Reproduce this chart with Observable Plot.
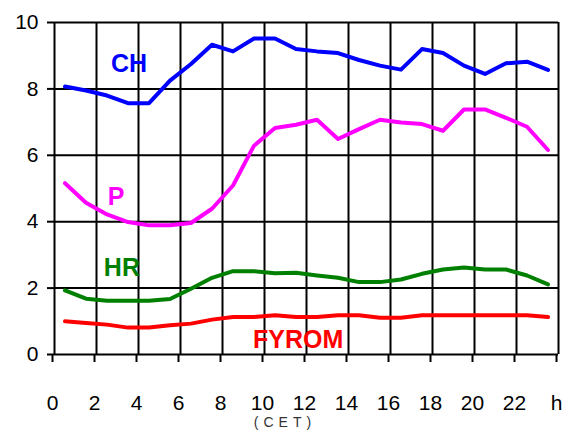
<!DOCTYPE html>
<html>
<head>
<meta charset="utf-8">
<script src="https://cdn.jsdelivr.net/npm/d3@7"></script>
<script src="https://cdn.jsdelivr.net/npm/@observablehq/plot@0.6"></script>
<style>
  html, body { margin: 0; padding: 0; background: #fff; }
</style>
</head>
<body>
<div id="chart"></div>
<script>
// Hours (CET) at which values are plotted (centre of each hourly interval)
const hours = [0.5, 1.5, 2.5, 3.5, 4.5, 5.5, 6.5, 7.5, 8.5, 9.5, 10.5, 11.5,
               12.5, 13.5, 14.5, 15.5, 16.5, 17.5, 18.5, 19.5, 20.5, 21.5, 22.5, 23.5];

const CH    = [8.07, 7.95, 7.80, 7.57, 7.57, 8.25, 8.75, 9.33, 9.13, 9.52, 9.52, 9.20,
               9.13, 9.08, 8.87, 8.70, 8.58, 9.20, 9.08, 8.70, 8.45, 8.77, 8.82, 8.57];
const P     = [5.16, 4.57, 4.22, 3.99, 3.89, 3.89, 3.96, 4.39, 5.09, 6.29, 6.82, 6.92,
               7.07, 6.49, 6.79, 7.07, 6.99, 6.94, 6.74, 7.38, 7.38, 7.13, 6.86, 6.16];
const HR    = [1.93, 1.68, 1.62, 1.62, 1.62, 1.67, 1.98, 2.31, 2.51, 2.51, 2.45, 2.46,
               2.38, 2.31, 2.18, 2.18, 2.26, 2.43, 2.56, 2.62, 2.56, 2.56, 2.38, 2.11];
const FYROM = [1.00, 0.95, 0.90, 0.81, 0.81, 0.88, 0.93, 1.05, 1.13, 1.13, 1.18, 1.13,
               1.13, 1.18, 1.18, 1.11, 1.11, 1.18, 1.18, 1.18, 1.18, 1.18, 1.18, 1.13];

const seriesNames  = ["CH", "P", "HR", "FYROM"];
const seriesColors = ["#0000ff", "#ff00ff", "#008000", "#ff0000"];

// Series label anchor points (data units: hour, value)
const labelHour  = [3.55, 2.93, 3.21, 11.6];
const labelValue = [8.76, 4.73, 2.61, 0.45];

const xTicks = [0, 2, 4, 6, 8, 10, 12, 14, 16, 18, 20, 22, 24];
const xTickLabels = ["0", "2", "4", "6", "8", "10", "12", "14", "16", "18", "20", "22", "h"];
const yTicks = [0, 2, 4, 6, 8, 10];
const xUnit = "(CET)";

const seriesValues = [CH, P, HR, FYROM];
const rows = seriesNames.flatMap((name, s) =>
  hours.map((h, i) => ({series: name, hour: h, value: seriesValues[s][i]})));
const labels = seriesNames.map((name, s) => ({series: name, hour: labelHour[s], value: labelValue[s]}));
const colorOf = Object.fromEntries(seriesNames.map((n, i) => [n, seriesColors[i]]));

const chart = Plot.plot({
  width: 563,
  height: 435,
  marginLeft: 54,
  marginRight: 5,
  marginTop: 22,
  marginBottom: 81,
  x: {domain: [0, 24]},
  y: {domain: [0, 10]},
  style: {fontFamily: "'Liberation Sans', Arial, sans-serif", background: "#fff", color: "#000"},
  marks: [
    Plot.gridX(xTicks, {stroke: "#000", strokeOpacity: 1, strokeWidth: 2}),
    Plot.gridY(yTicks, {stroke: "#000", strokeOpacity: 1, strokeWidth: 2}),
    Plot.axisX(xTicks, {
      tickSize: 8, tickPadding: 33, strokeWidth: 2, fontSize: 21, label: null, dx: -2,
      tickFormat: (d) => xTickLabels[xTicks.indexOf(d)]
    }),
    Plot.axisY(yTicks, {tickSize: 7, tickPadding: 9, strokeWidth: 2, fontSize: 21, label: null}),
    ...seriesNames.map((name) =>
      Plot.line(rows.filter((r) => r.series === name), {
        x: "hour", y: "value", stroke: colorOf[name], strokeWidth: 4, strokeLinejoin: "round"
      })),
    Plot.text(labels, {
      x: "hour", y: "value", text: "series",
      fill: (d) => colorOf[d.series],
      fontSize: 25, fontWeight: "bold"
    }),
    Plot.text([xUnit], {
      frameAnchor: "bottom", dx: -24, dy: 72, fontSize: 14, fill: "#333",
      text: (d) => d
    })
  ]
});
d3.select(chart).selectAll("text")
  .filter(function () { return this.textContent === xUnit; })
  .attr("letter-spacing", "5px")
  .attr("dx", "2.5px");
document.getElementById("chart").append(chart);
</script>
</body>
</html>
